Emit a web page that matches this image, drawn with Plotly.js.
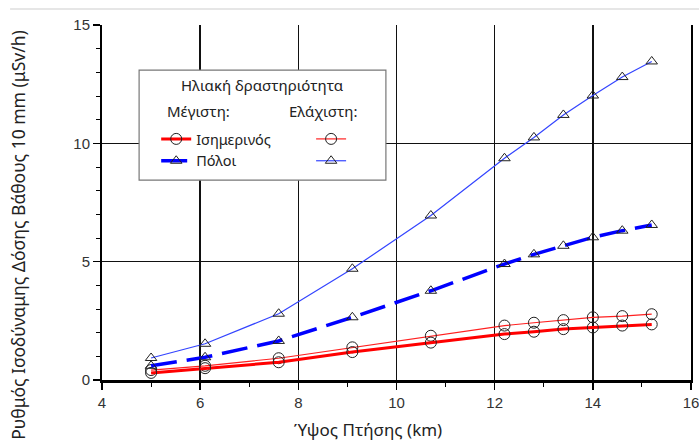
<!DOCTYPE html>
<html>
<head>
<meta charset="utf-8">
<script src="https://cdn.plot.ly/plotly-3.0.1.min.js"></script>
<style>html,body{margin:0;padding:0;background:#fff;}#chart{width:699px;height:444px;}</style>
</head>
<body>
<div id="chart"></div>
<script>
// Flight altitude (km)
const altitude = [5.0, 6.1, 7.6, 9.1, 10.7, 12.2, 12.8, 13.4, 14.0, 14.6, 15.2];
// Dose rate (μSv/h)
const equatorMax = [0.30, 0.50, 0.75, 1.18, 1.58, 1.94, 2.04, 2.15, 2.22, 2.30, 2.35];
const equatorMin = [0.42, 0.60, 0.92, 1.38, 1.87, 2.30, 2.42, 2.53, 2.65, 2.70, 2.78];
const polesMax   = [0.60, 0.96, 1.65, 2.65, 3.77, 4.90, 5.31, 5.67, 6.03, 6.31, 6.55];
const polesMin   = [0.93, 1.53, 2.80, 4.70, 6.95, 9.37, 10.25, 11.20, 12.02, 12.80, 13.46];

const seriesNames = ['Ισημερινός', 'Πόλοι'];
const xTitle = 'Ύψος Πτήσης (km)';
const yTitle = 'Ρυθμός Ισοδύναμης Δόσης Βάθους 10 mm (μSv/h)';
const legendTitle = 'Ηλιακή δραστηριότητα';
const colMax = 'Μέγιστη:';
const colMin = 'Ελάχιστη:';

const circ = {symbol: 'circle-open', color: '#222', size: 11, line: {width: 1}};
const tri = {symbol: 'triangle-up-open', color: '#222', size: 10, line: {width: 1}};

const traces = [
  {x: altitude, y: equatorMin, mode: 'lines+markers', name: ' ', legend: 'legend2',
   line: {color: '#ff2020', width: 1.2}, marker: circ},
  {x: altitude, y: equatorMax, mode: 'lines+markers', name: seriesNames[0], legend: 'legend',
   line: {color: '#ff0000', width: 3}, marker: circ},
  {x: altitude, y: polesMin, mode: 'lines+markers', name: '  ', legend: 'legend2',
   line: {color: '#3344ff', width: 1.2}, marker: tri},
  {x: altitude, y: polesMax, mode: 'lines+markers', name: seriesNames[1], legend: 'legend',
   line: {color: '#0000ff', width: 3.5, dash: '26px,10px'}, marker: tri}
];

const tickFont = {family: 'Liberation Sans, Arial, sans-serif', size: 15, color: '#333'};
const textFont = {family: 'Noto Sans, Open Sans, sans-serif', size: 15, color: '#222'};

const layout = {
  width: 699, height: 444,
  margin: {l: 102, r: 8, t: 25, b: 64},
  paper_bgcolor: '#fff', plot_bgcolor: '#fff',
  showlegend: true,
  xaxis: {
    range: [4, 16], dtick: 2, tick0: 4,
    showgrid: true, gridcolor: '#111', gridwidth: 1.6,
    showline: true, linecolor: '#000', linewidth: 2.5,
    zeroline: false,
    ticks: 'outside', ticklen: 7, tickwidth: 1.5, tickcolor: '#000',
    minor: {dtick: 1, ticks: 'outside', ticklen: 4, tickwidth: 1, tickcolor: '#000', showgrid: false},
    tickfont: tickFont, ticklabeloverflow: 'allow'
  },
  yaxis: {
    range: [0, 15], dtick: 5, tick0: 0,
    showgrid: true, gridcolor: '#111', gridwidth: 1.6,
    showline: true, mirror: true, linecolor: '#000', linewidth: 2,
    zeroline: false,
    ticks: 'outside', ticklen: 7, tickwidth: 1.5, tickcolor: '#000',
    minor: {dtick: 1, ticks: 'outside', ticklen: 4, tickwidth: 1, tickcolor: '#000', showgrid: false},
    tickfont: tickFont
  },
  legend: {
    x: 0.092, y: 0.724, xanchor: 'left', yanchor: 'top',
    bgcolor: 'rgba(0,0,0,0)', borderwidth: 0,
    font: {family: 'Noto Sans, Open Sans, sans-serif', size: 14.5, color: '#222'},
    itemwidth: 30, tracegroupgap: 0
  },
  legend2: {
    x: 0.355, y: 0.724, xanchor: 'left', yanchor: 'top',
    bgcolor: 'rgba(0,0,0,0)', borderwidth: 0,
    font: {family: 'Noto Sans, Open Sans, sans-serif', size: 14.5, color: '#222'},
    itemwidth: 30, tracegroupgap: 0
  },
  shapes: [
    {type: 'rect', xref: 'paper', yref: 'paper', x0: 0.063, x1: 0.482, y0: 0.563, y1: 0.873,
     line: {color: '#777', width: 1.2}, fillcolor: '#fff', layer: 'above'},
    {type: 'line', xref: 'paper', yref: 'paper', x0: -0.156, x1: 1.02, y0: 1.045, y1: 1.045,
     line: {color: '#e6e6e6', width: 2}}
  ],
  annotations: [
    {xref: 'paper', yref: 'paper', x: 0.272, y: 0.832, text: legendTitle, showarrow: false,
     font: textFont, xanchor: 'center', yanchor: 'middle'},
    {xref: 'paper', yref: 'paper', x: 0.107, y: 0.758, text: colMax, showarrow: false,
     font: textFont, xanchor: 'left', yanchor: 'middle'},
    {xref: 'paper', yref: 'paper', x: 0.314, y: 0.758, text: colMin, showarrow: false,
     font: textFont, xanchor: 'left', yanchor: 'middle'},
    {xref: 'paper', yref: 'paper', x: 0.452, y: -0.14, text: xTitle, showarrow: false,
     font: {family: 'Noto Sans, Open Sans, sans-serif', size: 17, color: '#222'},
     xanchor: 'center', yanchor: 'middle'},
    {xref: 'paper', yref: 'paper', x: -0.142, y: 0.41, text: yTitle, showarrow: false,
     textangle: -90,
     font: {family: 'Noto Sans, Open Sans, sans-serif', size: 17.5, color: '#222'},
     xanchor: 'center', yanchor: 'middle'}
  ]
};

Plotly.newPlot('chart', traces, layout, {displayModeBar: false, staticPlot: true});
</script>
</body>
</html>
